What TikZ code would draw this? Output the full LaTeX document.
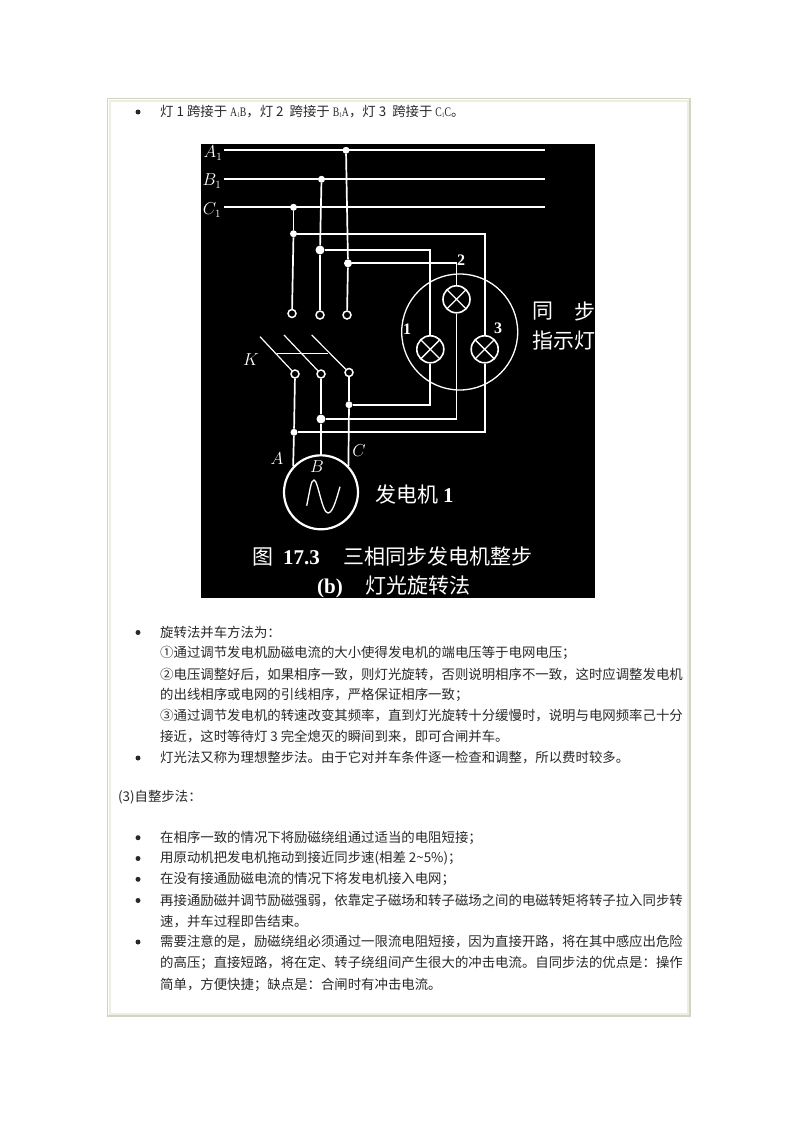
\documentclass[tikz,border=0pt]{standalone}
\usepackage{fontspec}
\setmainfont{Noto Sans CJK SC}
\newfontfamily\latinfont{Liberation Serif}
\usetikzlibrary{positioning}
\definecolor{panel}{HTML}{000000}
\definecolor{ridgeout}{HTML}{D2D4C6}
\definecolor{ridgein}{HTML}{EEEEDE}
\definecolor{bodytext}{HTML}{282828}
\newcommand{\phasepair}[2]{\scalebox{.75}[1]{\fontsize{13}{13}\latinfont #1\raisebox{-1pt}{\fontsize{7}{7}\selectfont 1}#2}}
\tikzset{
    wire/.style={
           draw=white, line width=1.7pt
           },
    bus/.style={
           draw=white, line width=1.8pt
           },
    point/.style={
           circle,
           inner sep=0pt,
           minimum size=7pt,
           fill=white
           },
    terminal/.style={
           circle,
           draw=white, line width=1.5pt,
           inner sep=0pt,
           minimum size=8pt
           },
    lamp/.style={
           circle,
           draw=white, line width=1.6pt,
           inner sep=0pt,
           minimum size=27pt,
           path picture={
              \draw[white, line width=1.3pt]
                 (path picture bounding box.north west) -- (path picture bounding box.south east)
                 (path picture bounding box.north east) -- (path picture bounding box.south west);
           }
           },
    ring/.style={
           circle,
           draw=white, line width=1.3pt,
           inner sep=0pt
           },
    letter/.style={
           text=white, inner sep=0pt, font=\fontsize{16}{16}\selectfont
           },
    number/.style={
           text=white, inner sep=0pt, font=\fontsize{16}{16}\latinfont\bfseries
           },
    caption/.style={
           text=white, inner sep=0pt, font=\fontsize{21}{21}\selectfont
           },
    line/.style={
           anchor=west, inner sep=0pt, text=bodytext,
           font=\fontsize{13.4}{13.4}\selectfont
           },
    dot/.style={
           circle, inner sep=0pt, minimum size=5pt, fill=bodytext
           }
}
\begin{document}
\begin{tikzpicture}[x=1pt,y=-1pt]
   \useasboundingbox (0,0) rectangle (800,1132);
   % page frame and black panel
   \draw[ridgeout, line width=1.5pt] (107.5,98.5) rectangle (690,1016);
   \draw[ridgein, line width=2pt] (109.5,100.5) rectangle (688,1014);
   \fill[panel] (201,144) rectangle (595,598);

   % three bus bars
   \coordinate (a1left) at (224,150.3);
   \coordinate (a1right) at (545,150.3);
   \coordinate (b1left) at (224,179.3);
   \coordinate (b1right) at (545,179.3);
   \coordinate (c1left) at (224,207.3);
   \coordinate (c1right) at (545,207.3);
   \node[point] (a1) at (346,150.3) {};
   \node[point] (b1) at (321.5,179.3) {};
   \node[point] (c1) at (293.5,207.3) {};
   \node[point] (c2) at (293.5,233.7) {};
   \node[point, minimum size=9pt] (b2) at (320,250) {};
   \node[point, minimum size=8pt] (a2) at (348,263.3) {};
   \node[terminal] (toc) at (292,313.5) {};
   \node[terminal] (tob) at (320,315) {};
   \node[terminal] (toa) at (347,315) {};

   % lamps
   \node[ring, minimum size=116pt] (dial) at (459.7,332) {};
   \node[lamp] (lamp2) at (456.5,299.3) {};
   \node[lamp] (lamp1) at (430.3,349.3) {};
   \node[lamp] (lamp3) at (484.7,349.3) {};

   % switch and generator
   \node[terminal] (swa) at (295,374) {};
   \node[terminal] (swb) at (321,374) {};
   \node[terminal] (swc) at (349,372.5) {};
   \coordinate (blade1) at (260,336.7);
   \coordinate (blade2) at (284,335);
   \coordinate (blade3) at (311.7,335);
   \coordinate (linkl) at (277,353.3);
   \coordinate (linkr) at (328,353.3);
   \node[point] (j3) at (294,432.3) {};
   \node[point, minimum size=9pt] (j2) at (321,419) {};
   \node[point] (j1) at (349,404.7) {};
   \node[ring, line width=2.2pt, minimum size=74pt] (gen) at (321,492.3) {};

   \path[bus]
    (a1left) edge (a1right)
    (b1left) edge (b1right)
    (c1left) edge (c1right)
    ;
   \path[wire]
    (a1) edge (a2)
    (a2) edge (toa)
    (b1) edge (b2)
    (b2) edge (tob)
    (c1) edge (c2)
    (c2) edge (toc)
    (swa) edge (j3)
    (swb) edge (j2)
    (swc) edge (j1)
    (j3) edge (gen.137)
    (j2) edge (gen.90)
    (j1) edge (gen.44)
    ;
   \path[bus, line width=1.2pt]
    (blade1) edge (swa)
    (blade2) edge (swb)
    (blade3) edge (swc)
    (linkl) edge (linkr)
    ;
   \draw[wire] (c2) -| (lamp3);
   \draw[wire] (b2) -| (lamp1);
   \draw[wire] (a2) -| (lamp2);
   \draw[wire] (lamp1) |- (j1);
   \draw[wire] (lamp2) |- (j2);
   \draw[wire] (lamp3) |- (j3);
   \draw[wire, line width=1.3pt] (306.7,505.7) .. controls (310,490) and (311,480) .. (314,480)
        .. controls (318,480) and (322,513) .. (328,513)
        .. controls (333,513) and (337,497) .. (340,486.7);

   % labels inside the panel
   \node[letter] (la1) at (213,153) {$A_1$};
   \node[letter] (lb1) at (212,181) {$B_1$};
   \node[letter] (lc1) at (212,210) {$C_1$};
   \node[letter] (lk) at (251,360) {$K$};
   \node[letter] (la) at (277,459) {$A$};
   \node[letter] (lb) at (317,467) {$B$};
   \node[letter] (lc) at (359,451) {$C$};
   \node[number] (n1) at (407,329) {1};
   \node[number] (n2) at (461,260) {2};
   \node[number] (n3) at (498,328) {3};
   \node[caption, anchor=west] (tong) at (532,311) {同};
   \node[caption, anchor=east] (bu) at (596,311) {步};
   \node[caption, anchor=east] (zhishi) at (596,341) {指示灯};
   \node[caption, anchor=west] (genlabel) at (375,495) {发电机\hspace{5pt}{\latinfont\bfseries 1}};
   \node[caption, anchor=west] (cap1) at (252,557) {图\hspace{10pt}{\latinfont\bfseries 17.3}\hspace{24pt}三相同步发电机整步};
   \node[caption, anchor=west] (cap2) at (317,587) {{\latinfont\bfseries (b)}\hspace{23pt}灯光旋转法};

   % text above and below the panel
   \node[dot] (d0) at (138,112) {};
   \node[line] (t0) at (160,112) {灯 1 跨接于 \phasepair{A}{B}，灯 2 \ 跨接于 \phasepair{B}{A}，灯 3 \ 跨接于 \phasepair{C}{C}。};
   \node[dot] (d1) at (138,632.5) {};
   \node[line] (t1) at (160,632.5) {旋转法并车方法为：};
   \node[line] (t2) at (160,653.3) {①通过调节发电机励磁电流的大小使得发电机的端电压等于电网电压；};
   \node[line] (t3) at (160,674.3) {②电压调整好后，如果相序一致，则灯光旋转，否则说明相序不一致，这时应调整发电机};
   \node[line] (t4) at (160,695) {的出线相序或电网的引线相序，严格保证相序一致；};
   \node[line] (t5) at (160,716) {③通过调节发电机的转速改变其频率，直到灯光旋转十分缓慢时，说明与电网频率己十分};
   \node[line] (t6) at (160,737) {接近，这时等待灯 3 完全熄灭的瞬间到来，即可合闸并车。};
   \node[dot] (d2) at (138,758) {};
   \node[line] (t7) at (160,758) {灯光法又称为理想整步法。由于它对并车条件逐一检查和调整，所以费时较多。};
   \node[line] (t8) at (118,797.3) {(3)自整步法：};
   \node[dot] (d3) at (138,837.7) {};
   \node[line] (t9) at (160,837.7) {在相序一致的情况下将励磁绕组通过适当的电阻短接；};
   \node[dot] (d4) at (138,858.5) {};
   \node[line] (t10) at (160,858.5) {用原动机把发电机拖动到接近同步速(相差 2\textasciitilde5\%)；};
   \node[dot] (d5) at (138,879.3) {};
   \node[line] (t11) at (160,879.3) {在没有接通励磁电流的情况下将发电机接入电网；};
   \node[dot] (d6) at (138,900.5) {};
   \node[line] (t12) at (160,900.5) {再接通励磁并调节励磁强弱，依靠定子磁场和转子磁场之间的电磁转矩将转子拉入同步转};
   \node[line] (t13) at (160,921.5) {速，并车过程即告结束。};
   \node[dot] (d7) at (138,942) {};
   \node[line] (t14) at (160,942) {需要注意的是，励磁绕组必须通过一限流电阻短接，因为直接开路，将在其中感应出危险};
   \node[line] (t15) at (160,963) {的高压；直接短路，将在定、转子绕组间产生很大的冲击电流。自同步法的优点是：操作};
   \node[line] (t16) at (160,984.5) {简单，方便快捷；缺点是：合闸时有冲击电流。};
\end{tikzpicture}
\end{document}
